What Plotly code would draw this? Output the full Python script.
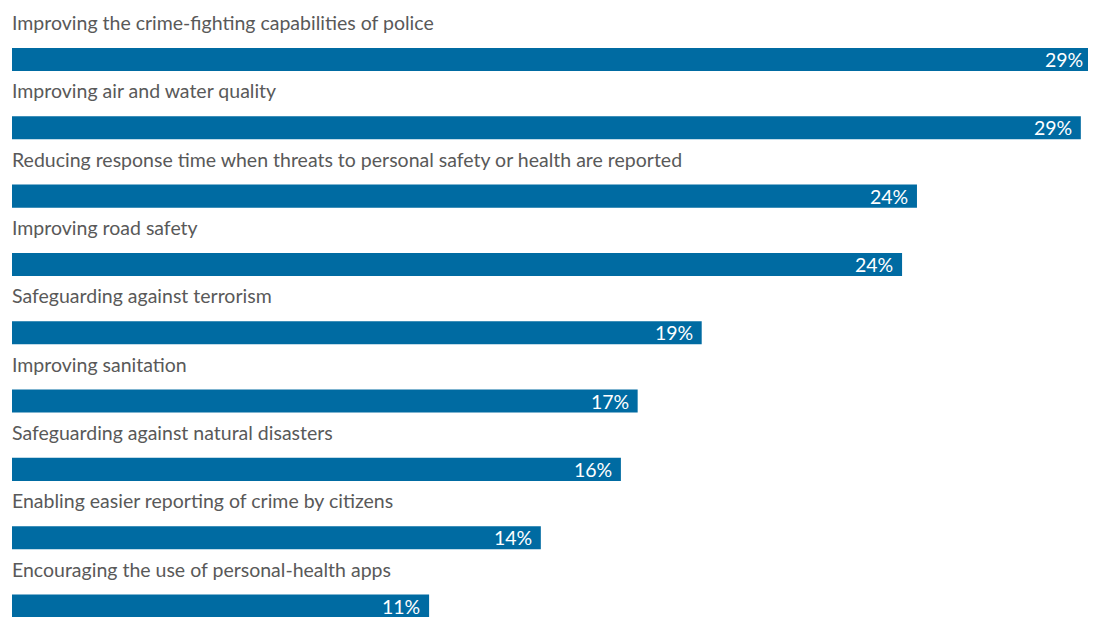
import plotly.graph_objects as go

categories = [
    "Improving the crime-fighting capabilities of police",
    "Improving air and water quality",
    "Reducing response time when threats to personal safety or health are reported",
    "Improving road safety",
    "Safeguarding against terrorism",
    "Improving sanitation",
    "Safeguarding against natural disasters",
    "Enabling easier reporting of crime by citizens",
    "Encouraging the use of personal-health apps",
]
values = [29.0, 28.7, 24.3, 23.9, 18.52, 16.8, 16.35, 14.2, 11.2]
value_labels = [f"{round(v)}%" for v in values]

BAR = "#006ba2"
FONT = "Lato"

fig = go.Figure()
fig.add_trace(go.Bar(
    x=values,
    y=list(range(len(categories))),
    orientation="h",
    marker=dict(color=BAR, line=dict(width=0)),
    width=0.337,
    hoverinfo="skip",
))

for i, c in enumerate(categories):
    fig.add_annotation(
        x=0, y=i, xref="x", yref="y", text=c, showarrow=False,
        xanchor="left", yanchor="middle", yshift=37, xshift=-2,
        font=dict(family=FONT, size=19.5, color="#595959"),
    )
    fig.add_annotation(
        x=values[i], y=i, xref="x", yref="y", text=value_labels[i],
        showarrow=False, xanchor="right", yanchor="middle", xshift=-7, yshift=0,
        font=dict(family=FONT, size=19.5, color="white"),
    )

fig.update_layout(
    width=1088, height=609,
    margin=dict(l=4, r=4, t=0, b=0),
    paper_bgcolor="white", plot_bgcolor="white",
    showlegend=False,
    xaxis=dict(range=[0, 29.0], visible=False, fixedrange=True),
    yaxis=dict(range=[8.161, -0.754], visible=False, fixedrange=True),
)

fig.write_html("out.html")
